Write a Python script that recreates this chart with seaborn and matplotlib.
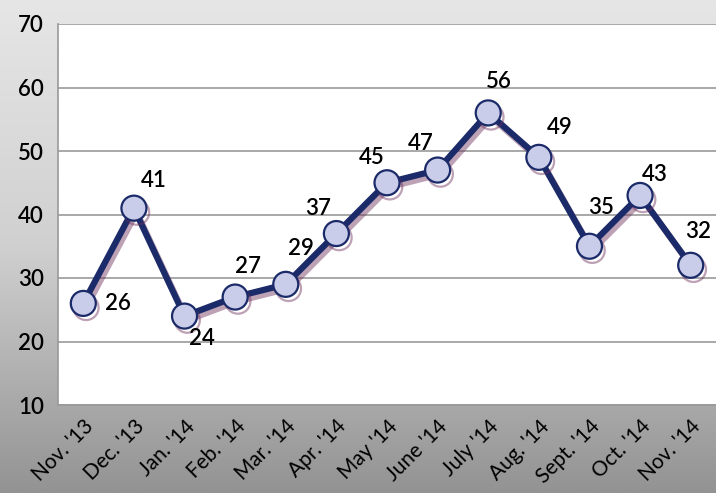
import numpy as np
import pandas as pd
import matplotlib
matplotlib.use("Agg")
import matplotlib.pyplot as plt
import matplotlib.patheffects as pe
import seaborn as sns

# --- DATA ---
months = ["Nov. '13", "Dec. '13", "Jan. '14", "Feb. '14", "Mar. '14", "Apr. '14",
          "May '14", "June '14", "July '14", "Aug. '14", "Sept. '14", "Oct. '14", "Nov. '14"]
values = [26, 41, 24, 27, 29, 37, 45, 47, 56, 49, 35, 43, 32]
y_ticks = [10, 20, 30, 40, 50, 60, 70]

# label offsets (pixels) so labels sit around the points like the original
label_dx = [35, 20, 17, 13, 15, -18, -15, -17, 11, 21, 12, 15, 7]
label_dy = [0, 28, -22, 31, 36, 25, 25, 27, 31, 30, 39, 21, 34]

sns.set_style("white")
plt.rcParams['font.family'] = ['Lato', 'DejaVu Sans']
plt.rcParams['text.color'] = 'black'
plt.rcParams['xtick.labelcolor'] = 'black'
plt.rcParams['ytick.labelcolor'] = 'black'

fig = plt.figure(figsize=(7.16, 4.93), dpi=100)

# gray gradient background
bg = fig.add_axes([0, 0, 1, 1], zorder=0)
grad = np.linspace(0, 1, 256).reshape(-1, 1)
cmap = matplotlib.colors.LinearSegmentedColormap.from_list("bg", ["#e6e6e6", "#d0d0d0", "#939393"])
bg.imshow(grad, aspect="auto", cmap=cmap, extent=[0, 1, 0, 1], origin="upper")
bg.set_axis_off()

ax = fig.add_axes([58 / 716, 88 / 493, 1 - 58 / 716, (405 - 24) / 493], zorder=1)
ax.set_facecolor("white")

df = pd.DataFrame({"month": months, "value": values})
shadow = [pe.SimpleLineShadow(offset=(2, -3), shadow_color="#6e2f5c", alpha=0.45),
          pe.Normal()]
sns.lineplot(data=df, x="month", y="value", sort=False, ax=ax, color="#1b2a68",
             linewidth=4.5, marker="o", markersize=18, markerfacecolor="#c9cdea",
             markeredgecolor="#1b2a68", markeredgewidth=1.6, path_effects=shadow,
             zorder=3)

for i, v in enumerate(values):
    ax.annotate(str(v), (i, v), xytext=(label_dx[i], label_dy[i]), textcoords="offset pixels",
                ha="center", va="center", fontsize=16, fontweight="semibold",
                color="black", zorder=4)

ax.set_xlim(-0.5, 12.5)
ax.set_ylim(10, 70)
ax.set_yticks(y_ticks)
ax.yaxis.grid(True, color="#999999", linewidth=1.2)
ax.set_axisbelow(True)
ax.set_xticks(range(len(months)))
ax.set_xticklabels(months, rotation=45, ha="right", rotation_mode="anchor", fontsize=15)
ax.set_yticklabels([str(t) for t in y_ticks], fontsize=16, fontweight="semibold")
ax.tick_params(axis="x", direction="in", length=5, color="#999999", pad=8)
ax.tick_params(axis="y", direction="out", length=6, color="#999999", pad=4)
ax.set_xlabel("")
ax.set_ylabel("")
for side in ["top", "right"]:
    ax.spines[side].set_visible(False)
for side in ["left", "bottom"]:
    ax.spines[side].set_color("#999999")
    ax.spines[side].set_linewidth(1.2)

fig.savefig("out.png", dpi=100)
